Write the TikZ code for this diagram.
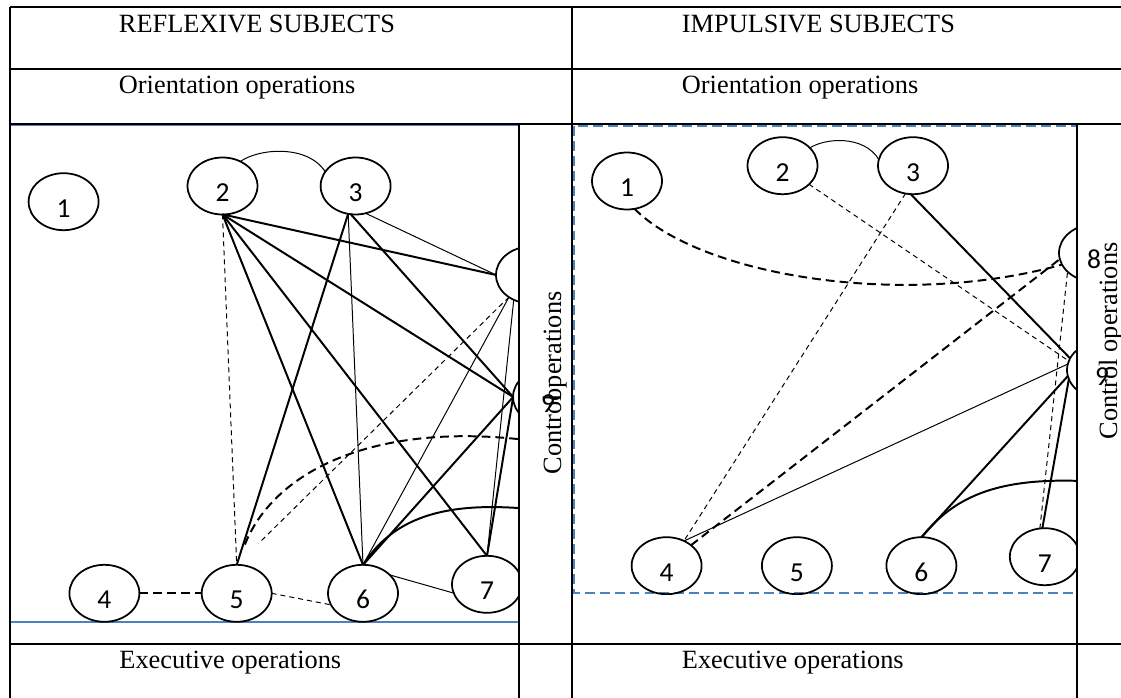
\documentclass[tikz,border=0pt]{standalone}
\usepackage{fontspec}
\setmainfont{Liberation Serif}
\newfontfamily\digitfont{Carlito}
\usepackage{tikz}
\usetikzlibrary{shapes.geometric}

\definecolor{panelblue}{RGB}{79,129,189}

\begin{document}
\begin{tikzpicture}[x=0.016cm,y=-0.016cm,
	op/.style={ellipse,inner sep=0pt,outer sep=0pt,minimum width=31.75pt,minimum height=25.85pt,text height=14pt,text depth=0pt,font=\digitfont\fontsize{12.5}{14}\selectfont},
	ring/.style={line width=0.8pt},
	solidthick/.style={line width=0.9pt},
	solidthin/.style={line width=0.45pt},
	dashthick/.style={line width=0.9pt,dash pattern=on 4pt off 2.3pt},
	dashthin/.style={line width=0.45pt,dash pattern=on 2.3pt off 1.8pt},
	rule/.style={line width=0.8pt},
	celltext/.style={anchor=base west,inner sep=0pt,font=\fontsize{12}{14}\selectfont},
	sidetext/.style={rotate=90,anchor=base,inner sep=0pt,font=\fontsize{12}{14}\selectfont}]

	\useasboundingbox (0,0) rectangle (1121,698);

	%panels
	\draw[panelblue,line width=1pt] (10,125) rectangle (519,622);
	\draw[panelblue,line width=1.3pt,dash pattern=on 4.5pt off 2.3pt] (574,126) rectangle (1077,593);

	%table
	\draw[rule] (10,7)--(1121,7);
	\draw[rule] (10,69)--(1121,69);
	\draw[rule] (10,124)--(1121,124);
	\draw[rule] (10,644)--(1121,644);
	\draw[rule] (10,7)--(10,698);
	\draw[rule] (572,7)--(572,698);
	\draw[rule] (519,124)--(519,698);
	\draw[rule] (1077,124)--(1077,698);

	\node[celltext] (ttl) at (118.5,32.3){REFLEXIVE SUBJECTS};
	\node[celltext] (ttr) at (681.5,32.3){IMPULSIVE SUBJECTS};
	\node[celltext] (orl) at (118.5,93.3){Orientation operations};
	\node[celltext] (orr) at (681.5,93.3){Orientation operations};
	\node[celltext] (exl) at (119,668){Executive operations};
	\node[celltext] (exr) at (681.5,668){Executive operations};
	\node[sidetext] (ctl) at (561,383){Contro\rlap{l}operations};
	\node[sidetext] (ctr) at (1117,341){Control operations};

	%reflexive nodes
	\node[op] (l1) at (63.6,201.7){1};
	\node[op] (l2) at (222.5,186){2};
	\node[op] (l3) at (355.6,186){3};
	\node[op] (l8) at (531,275){};
	\node[op] (l9) at (548,397){9};
	\node[op] (l4) at (104.4,593.3){4};
	\node[op] (l5) at (236.7,593.3){5};
	\node[op] (l6) at (363,593.3){6};
	\node[op] (l7) at (487,584.3){7};
	\coordinate (l5tail) at (560,445);
	\coordinate (l6tail) at (540,510);

	%impulsive nodes
	\node[op] (r1) at (627,181){1};
	\node[op] (r2) at (782.5,165.7){2};
	\node[op] (r3) at (913,165.7){3};
	\node[op] (r8) at (1094,253){8};
	\node[op] (r9) at (1102,370){9};
	\node[op] (r4) at (666.6,565.7){4};
	\node[op] (r5) at (796.9,565.7){5};
	\node[op] (r6) at (921.4,565.7){6};
	\node[op] (r7) at (1044.8,556.7){7};
	\coordinate (r6tail) at (1100,482);

	\begin{scope}
		\clip (10,125) rectangle (519,622);
		\foreach \n in {l1,l2,l3,l8,l9,l4,l5,l6,l7}
			\draw[ring] (\n.center) ellipse [x radius=35,y radius=28.5];
		\draw[solidthin] (l2.54) .. controls +(18,-13) and +(-18,-28) .. (l3.155);
		\draw[dashthin] (l2.south)--(l5.north);
		\draw[solidthick] (l2.south)--(l8.west);
		\draw[solidthick] (l2.south)--(l9.west);
		\draw[solidthick] (l2.south)--(l6.north);
		\draw[solidthick] (l2.south)--(l7.north);
		\draw[solidthick] (l3.-105)--(l5.north);
		\draw[solidthin] (l3.-105)--(l6.north);
		\draw[solidthick] (l3.-100)--(l9.west);
		\draw[solidthin] (l3.-70)--(l8.west);
		\draw[dashthin,shorten >=14pt] (l8.225)--(l5.north);
		\draw[solidthin] (l8.225)--(l6.north);
		\draw[solidthin] (l8.235)--(l7.north);
		\draw[solidthick] (l9.west)--(l6.north);
		\draw[solidthick] (l9.west)--(l7.north);
		\draw[dashthick] (l4.east)--(l5.west);
		\draw[dashthin] (l5.east)--(l6.200);
		\draw[solidthin] (l6.35)--(l7.195);
		\draw[solidthick] (l6.north) .. controls +(32,-50) and +(-90,-10) .. (l6tail);
		\draw[dashthick,shorten <=10pt] (l5.north) .. controls +(40,-100) and +(-170,-30) .. (l5tail);
	\end{scope}

	\begin{scope}
		\clip (574,126) rectangle (1077,594);
		\foreach \n in {r1,r2,r3,r8,r9,r4,r5,r6,r7}
			\draw[ring] (\n.center) ellipse [x radius=35,y radius=28.5];
		\draw[solidthin] (r2.33) .. controls +(15,-10) and +(-15,-25) .. (r3.170);
		\draw[dashthick] (r1.-75) .. controls +(65,66) and +(-162,45) .. (r8.200);
		\draw[dashthin] (r2.-35)--(r9.165);
		\draw[dashthin] (r3.-105)--(r4.55);
		\draw[solidthick] (r3.-95)--(r9.160);
		\draw[dashthick] (r4.40)--(r8.190);
		\draw[solidthin] (r4.55)--(r9.170);
		\draw[solidthick] (r6.north)--(r9.190);
		\draw[solidthick] (r7.95)--(r9.195);
		\draw[dashthin] (r7.100)--(r8.215);
		\draw[solidthick] (r6.north) .. controls +(34,-42) and +(-100,-7) .. (r6tail);
	\end{scope}

\end{tikzpicture}
\end{document}
